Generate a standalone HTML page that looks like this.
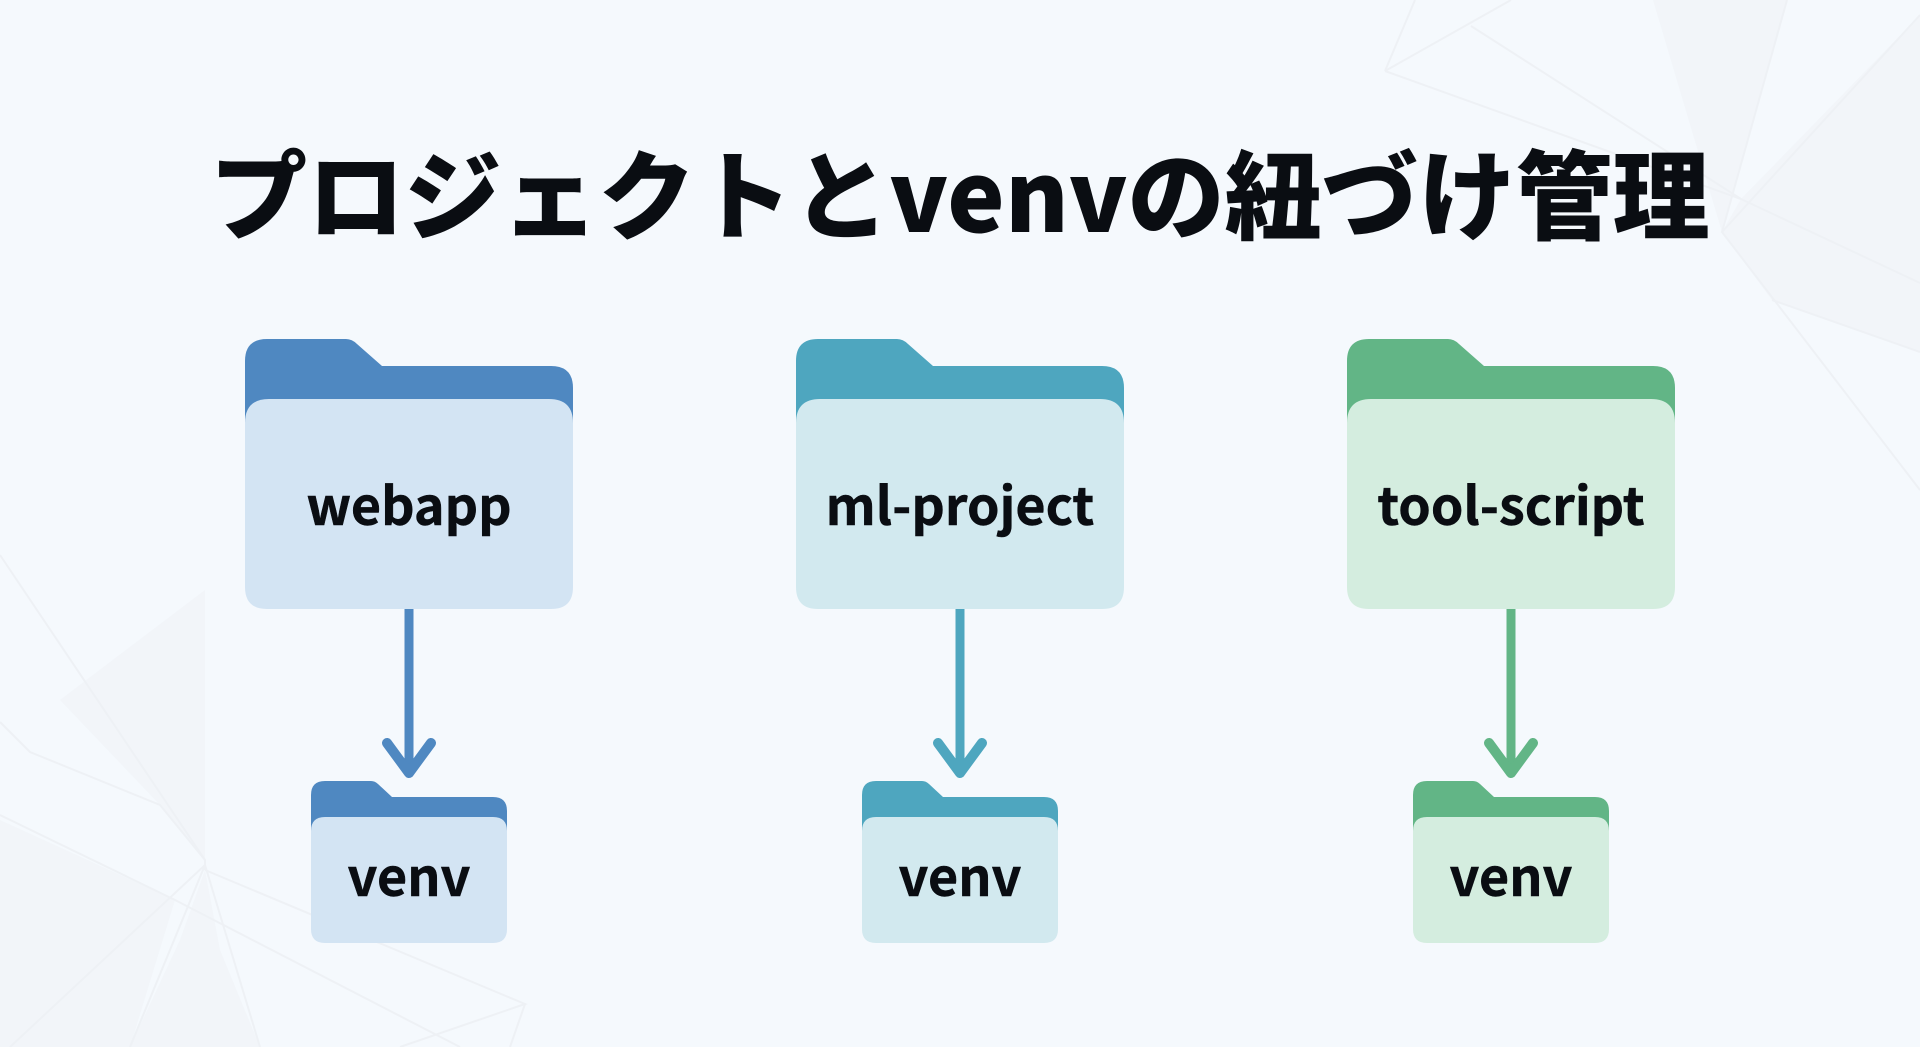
<!DOCTYPE html>
<html lang="ja"><head><meta charset="utf-8"><title>プロジェクトとvenvの紐づけ管理</title>
<style>html,body{margin:0;padding:0;width:1920px;height:1047px;overflow:hidden;background:#f5f9fd}svg{display:block}
text{font-family:"Liberation Sans","Noto Sans CJK JP",sans-serif}
.t{font-family:"Noto Sans CJK JP","Liberation Sans",sans-serif;font-weight:700;fill:#0a0d12;stroke:#0a0d12;stroke-width:.5px;text-anchor:middle}
.h{font-weight:900;stroke-width:0}</style></head>
<body>
<svg width="1920" height="1047" viewBox="0 0 1920 1047" xmlns="http://www.w3.org/2000/svg">
<rect width="1920" height="1047" fill="#f5f9fd"/>
<!-- faint background facets -->
<g fill="#f0f3f7" fill-opacity=".65" stroke="none">
<polygon points="1653,0 1787,0 1722,232"/>
<polygon points="1920,15 1741,199 1920,283"/>
<polygon points="1741,199 1722,232 1772,300 1920,352 1920,283"/>
<polygon points="0,820 175,900 130,1047 0,1047"/>
<polygon points="60,700 205,590 205,860 160,805"/>
<polygon points="205,870 180,940 130,1047 260,1047 220,950"/>
</g>
<g fill="none" stroke="#eef1f5" stroke-width="2">
<path d="M1385,71 L1741,199 L1920,283"/><path d="M1385,71 L1511,0"/><path d="M1385,71 L1415,0"/>
<path d="M1471,26 L1741,199"/><path d="M1787,0 L1722,232"/><path d="M1920,15 L1722,232 L1920,490"/><path d="M1772,300 L1920,352"/>
<path d="M0,555 L205,860 L205,870"/><path d="M0,722 L30,752 L160,805 L205,860"/><path d="M0,815 L175,900 L460,1047"/>
<path d="M205,870 L525,1004 L400,1047"/><path d="M525,1004 L510,1047"/><path d="M205,865 L10,1047"/><path d="M205,865 L130,1047"/><path d="M205,865 L260,1047"/>
</g>
<text class="t h" x="960" y="232" font-size="97">プロジェクトとvenvの紐づけ管理</text>

<!-- column 1 -->
<path d="M245,399 V361 Q245,339 267,339 H346 Q352,339 357,344 L382,366 H551 Q573,366 573,388 V430 H245 Z" fill="#4f88c1"/>
<path d="M245,423 Q245,399 269,399 H549 Q573,399 573,423 V587 Q573,609 551,609 H267 Q245,609 245,587 Z" fill="#d3e4f3"/>
<text class="t" x="409" y="525" font-size="52">webapp</text>
<path d="M409,609 V772" stroke="#4f88c1" stroke-width="9" fill="none"/>
<path d="M387,743 L409,773 L431,743" stroke="#4f88c1" stroke-width="10" fill="none" stroke-linecap="round" stroke-linejoin="round"/>
<path d="M311,817 V795 Q311,781 325,781 H371 Q375,781 378,784 L392,797 H493 Q507,797 507,811 V840 H311 Z" fill="#4f88c1"/>
<path d="M311,831 Q311,817 325,817 H493 Q507,817 507,831 V929 Q507,943 493,943 H325 Q311,943 311,929 Z" fill="#d3e4f3"/>
<text class="t" x="409" y="896" font-size="52">venv</text>

<!-- column 2 -->
<g transform="translate(551,0)">
<path d="M245,399 V361 Q245,339 267,339 H346 Q352,339 357,344 L382,366 H551 Q573,366 573,388 V430 H245 Z" fill="#4ea6bf"/>
<path d="M245,423 Q245,399 269,399 H549 Q573,399 573,423 V587 Q573,609 551,609 H267 Q245,609 245,587 Z" fill="#d2e9ef"/>
<text class="t" x="409" y="525" font-size="52">ml-project</text>
<path d="M409,609 V772" stroke="#4ea6bf" stroke-width="9" fill="none"/>
<path d="M387,743 L409,773 L431,743" stroke="#4ea6bf" stroke-width="10" fill="none" stroke-linecap="round" stroke-linejoin="round"/>
<path d="M311,817 V795 Q311,781 325,781 H371 Q375,781 378,784 L392,797 H493 Q507,797 507,811 V840 H311 Z" fill="#4ea6bf"/>
<path d="M311,831 Q311,817 325,817 H493 Q507,817 507,831 V929 Q507,943 493,943 H325 Q311,943 311,929 Z" fill="#d2e9ef"/>
<text class="t" x="409" y="896" font-size="52">venv</text>
</g>

<!-- column 3 -->
<g transform="translate(1102,0)">
<path d="M245,399 V361 Q245,339 267,339 H346 Q352,339 357,344 L382,366 H551 Q573,366 573,388 V430 H245 Z" fill="#62b586"/>
<path d="M245,423 Q245,399 269,399 H549 Q573,399 573,423 V587 Q573,609 551,609 H267 Q245,609 245,587 Z" fill="#d4eddf"/>
<text class="t" x="409" y="525" font-size="52">tool-script</text>
<path d="M409,609 V772" stroke="#62b586" stroke-width="9" fill="none"/>
<path d="M387,743 L409,773 L431,743" stroke="#62b586" stroke-width="10" fill="none" stroke-linecap="round" stroke-linejoin="round"/>
<path d="M311,817 V795 Q311,781 325,781 H371 Q375,781 378,784 L392,797 H493 Q507,797 507,811 V840 H311 Z" fill="#62b586"/>
<path d="M311,831 Q311,817 325,817 H493 Q507,817 507,831 V929 Q507,943 493,943 H325 Q311,943 311,929 Z" fill="#d4eddf"/>
<text class="t" x="409" y="896" font-size="52">venv</text>
</g>
</svg>
</body></html>
